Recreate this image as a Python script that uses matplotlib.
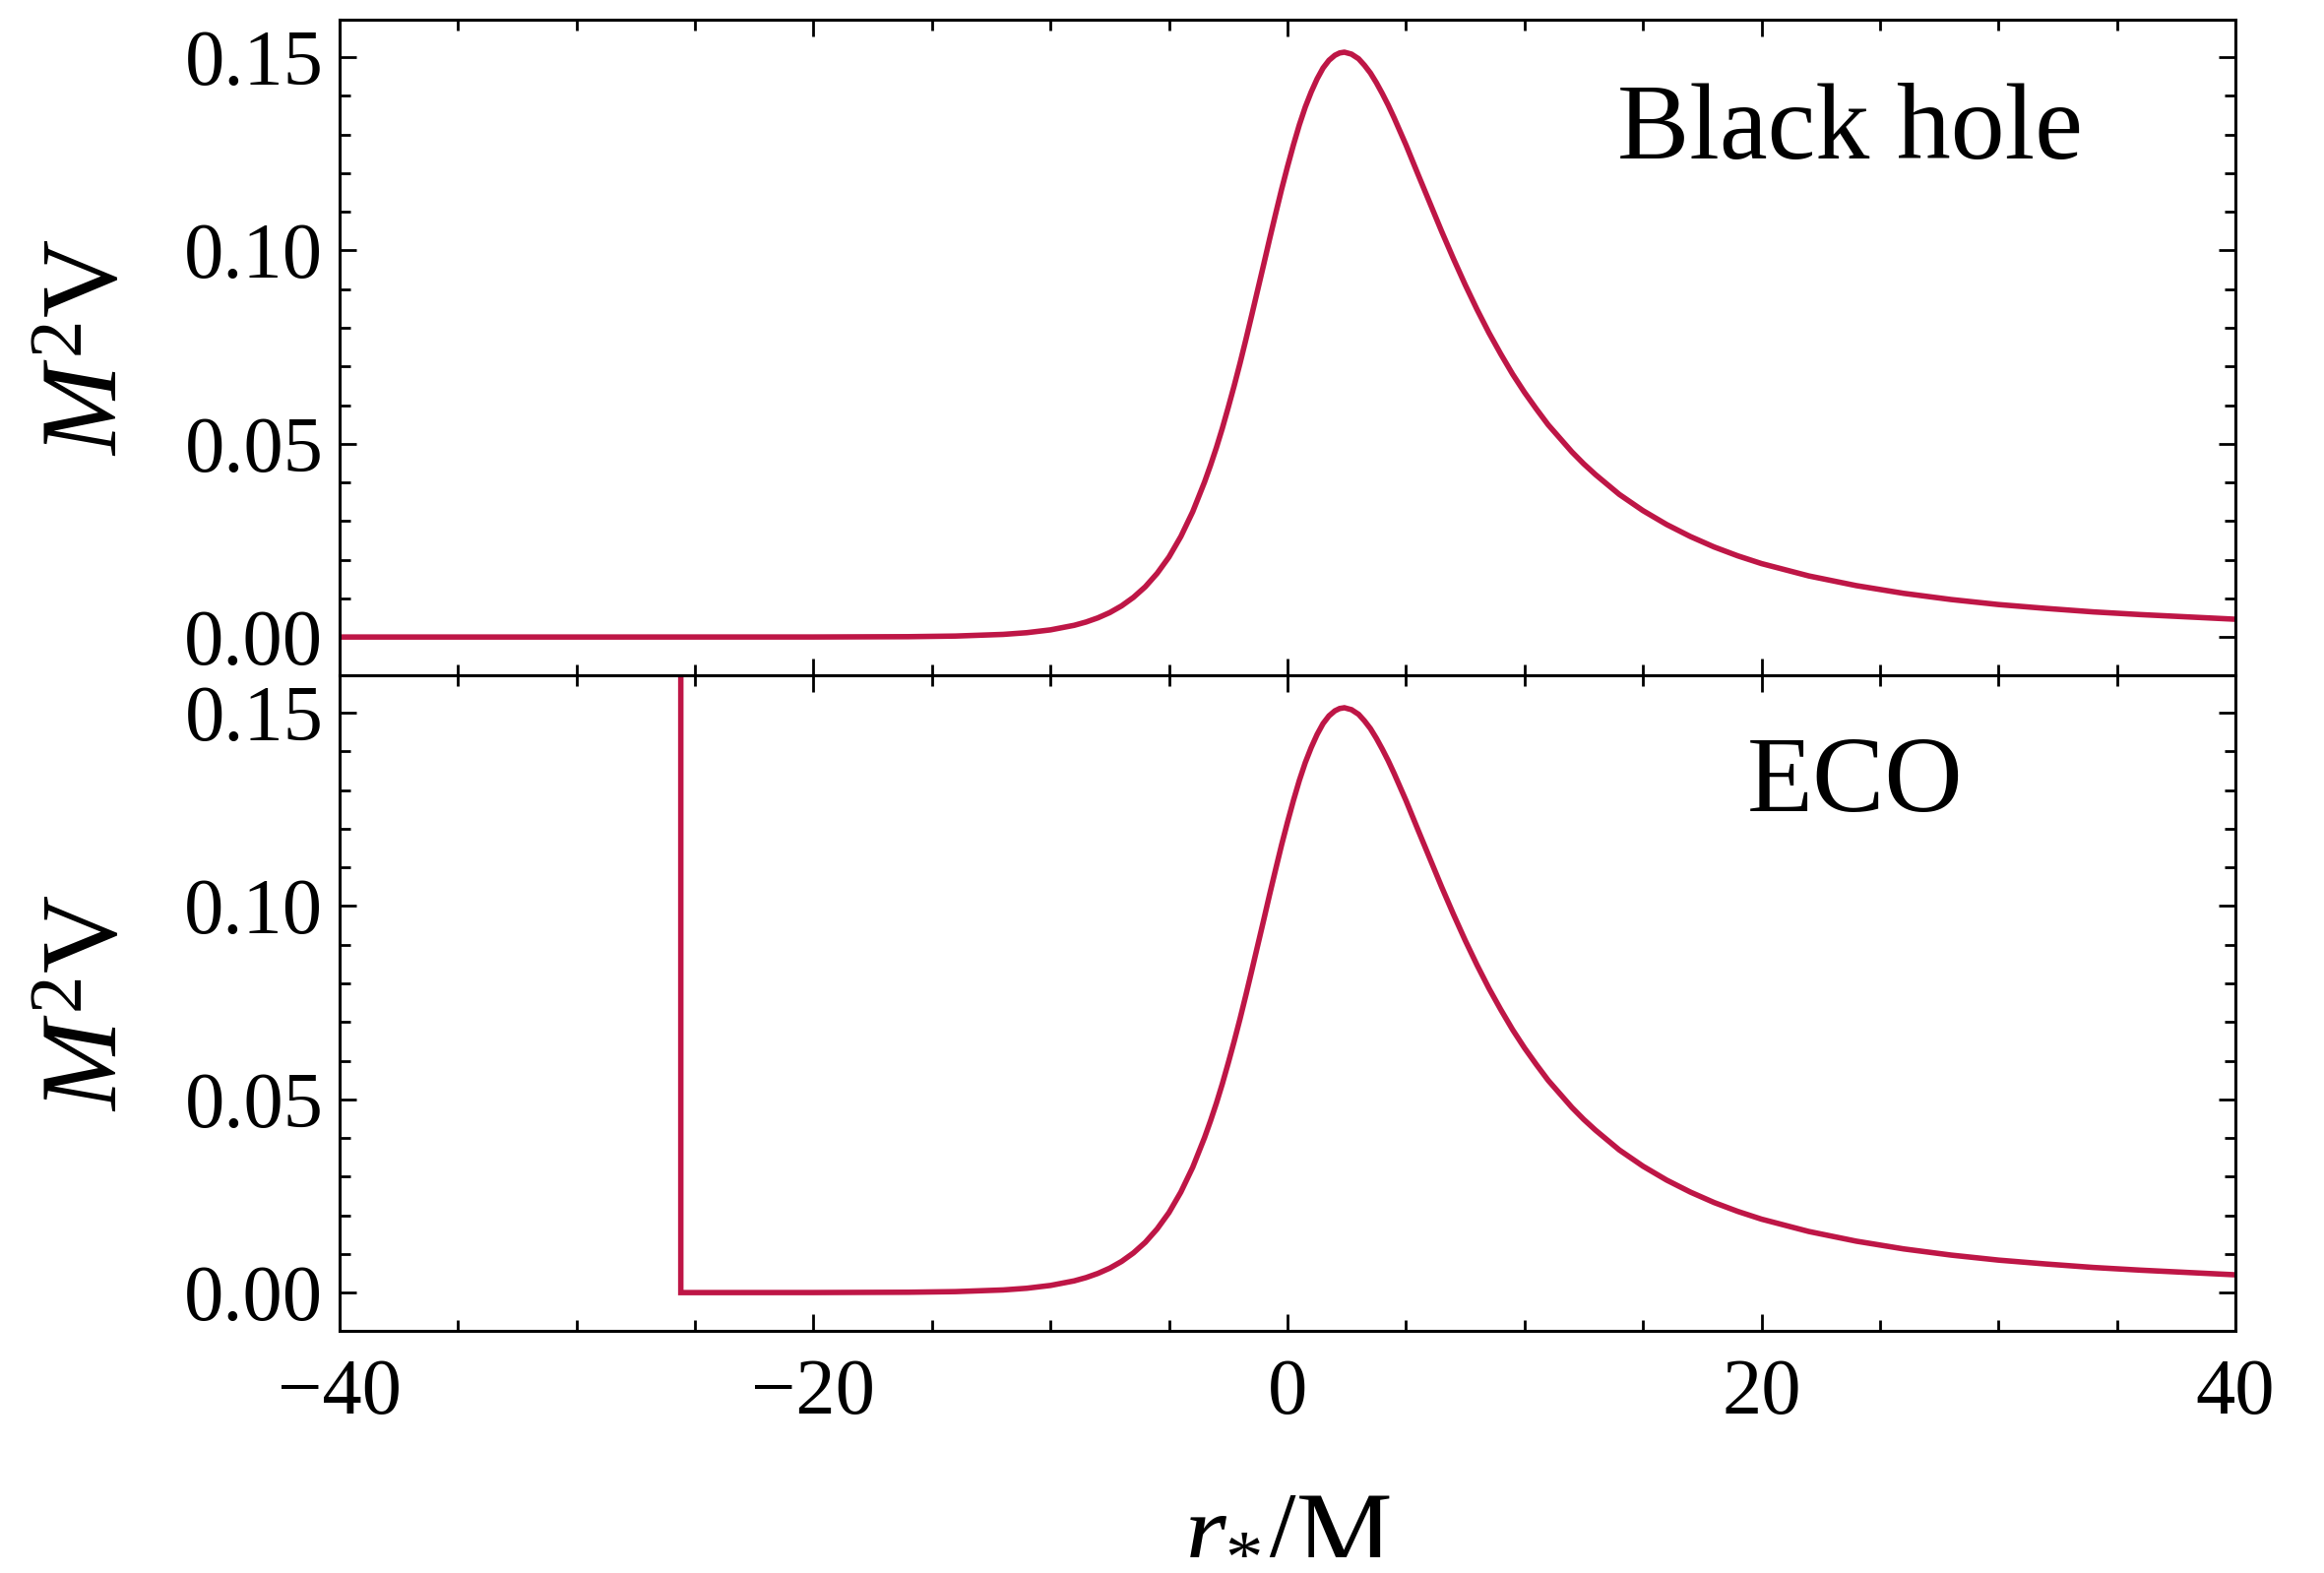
import matplotlib
matplotlib.use("Agg")
import matplotlib.pyplot as plt
from matplotlib.ticker import MultipleLocator, FormatStrFormatter

# Regge-Wheeler potential (l = 2) sampled in tortoise coordinate r*/M
r_star = [-40, -30, -20, -16, -14, -12, -11, -10, -9, -8.5, -8, -7.5, -7,
          -6.5, -6, -5.5, -5, -4.5, -4, -3.5, -3.25, -3, -2.75, -2.5, -2.25,
          -2, -1.75, -1.5, -1.25, -1, -0.75, -0.5, -0.25, 0, 0.25, 0.5, 0.75,
          1, 1.25, 1.5, 1.75, 2, 2.2, 2.4, 2.7, 3, 3.25, 3.5, 3.75, 4, 4.25,
          4.5, 5, 5.5, 6, 6.5, 7, 7.5, 8, 8.5, 9, 9.5, 10, 10.5, 11, 12,
          12.5, 13, 14, 15, 16, 17, 18, 19, 20, 22, 24, 26, 28, 30, 32, 34,
          36, 38, 40]
potential = [0.0, 0.0, 0.00001, 0.00009, 0.00025, 0.00068, 0.00112, 0.00185,
             0.00303, 0.00388, 0.00496, 0.00632, 0.00806, 0.01026, 0.0130,
             0.01647, 0.0207, 0.0260, 0.0324, 0.0401, 0.0444, 0.0490, 0.0540,
             0.0594, 0.0650, 0.0709, 0.0771, 0.0835, 0.0900, 0.0965, 0.1031,
             0.1095, 0.1158, 0.1217, 0.1273, 0.1325, 0.1371, 0.1410, 0.1444,
             0.1472, 0.1492, 0.1505, 0.1511, 0.1513, 0.1508, 0.1496, 0.1479,
             0.1459, 0.1434, 0.1406, 0.1376, 0.1343, 0.1273, 0.1198, 0.1124,
             0.1050, 0.0979, 0.0911, 0.0847, 0.0787, 0.0732, 0.0680, 0.0633,
             0.0590, 0.0549, 0.0479, 0.0448, 0.0420, 0.0369, 0.0327, 0.0291,
             0.0260, 0.0233, 0.0210, 0.0190, 0.0158, 0.0133, 0.0113, 0.0097,
             0.0084, 0.0074, 0.0065, 0.0058, 0.0052, 0.0046]

# ECO: reflective surface placed at r*/M = -25.6
eco_wall = -25.6
wall_height = 1.0

eco_rs = [eco_wall, eco_wall] + [x for x in r_star if x > eco_wall]
eco_v = [wall_height, 0.0] + [v for x, v in zip(r_star, potential) if x > eco_wall]

panel_labels = ["Black hole", "ECO"]
label_pos = [(13.9, 0.1239), (19.4, 0.1245)]

plt.rcParams["font.family"] = ["Liberation Serif", "DejaVu Serif"]
plt.rcParams["mathtext.fontset"] = "custom"
plt.rcParams["mathtext.rm"] = "Liberation Serif"
plt.rcParams["mathtext.it"] = "Liberation Serif:italic"

line_color = "#BE1646"

fig = plt.figure(figsize=(23.61, 15.98), dpi=100)
ax_top = fig.add_axes([0.1461, 0.5707, 0.8158, 0.41677])
ax_bot = fig.add_axes([0.1461, 0.15394, 0.8158, 0.41677])

ax_top.plot(r_star, potential, color=line_color, lw=4.0, solid_joinstyle="round")
ax_bot.plot(eco_rs, eco_v, color=line_color, lw=4.0, solid_joinstyle="miter")

for ax, txt, (tx, ty) in zip([ax_top, ax_bot], panel_labels, label_pos):
    ax.set_xlim(-40, 40)
    ax.set_ylim(-0.0099, 0.1597)
    ax.xaxis.set_major_locator(MultipleLocator(20))
    ax.xaxis.set_minor_locator(MultipleLocator(5))
    ax.yaxis.set_major_locator(MultipleLocator(0.05))
    ax.yaxis.set_minor_locator(MultipleLocator(0.01))
    ax.yaxis.set_major_formatter(FormatStrFormatter("%.2f"))
    ax.tick_params(which="both", direction="in", top=True, right=True,
                   width=2.0, labelsize=58, pad=12)
    ax.tick_params(which="major", length=12.5)
    ax.tick_params(which="minor", length=8)
    ax.tick_params(axis="x", pad=20)
    for sp in ax.spines.values():
        sp.set_linewidth(2.2)
    ax.text(tx, ty, txt, fontsize=79, ha="left", va="baseline")
    fig.text(142 / 2361, ax.get_position().y0 + ax.get_position().height / 2,
             "$M^2$V", fontsize=79, rotation=90, ha="right", va="center")

ax_top.tick_params(axis="x", labelbottom=False)

fig.text(0.5539, 1 - 1578 / 1598, r"$r_{*}/\mathrm{M}$", fontsize=79,
         ha="center", va="baseline")

fig.savefig("out.png", dpi=100)
